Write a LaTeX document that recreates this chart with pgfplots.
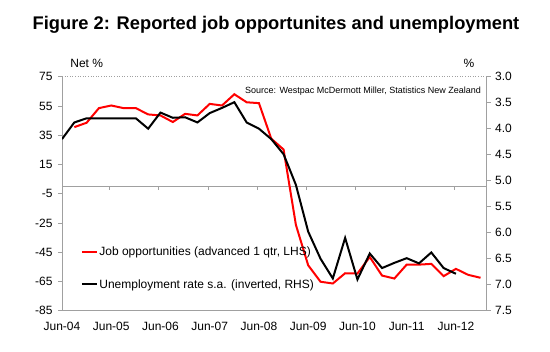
\documentclass[border=0pt]{standalone}
\usepackage{fontspec}
\setmainfont{Liberation Sans}
\usepackage{pgfplots}
\pgfplotsset{compat=1.18}
\definecolor{axgray}{RGB}{160,160,160}
\begin{document}
\begin{tikzpicture}
\path[use as bounding box] (0,0) rectangle (550pt,352pt);
\node[font=\fontsize{18.3}{21}\selectfont\bfseries] at (276pt,327pt) {Figure 2: Reported job opportunites and unemployment};
\node[font=\fontsize{12}{14}\selectfont] at (86.7pt,289pt) {Net \%};
\node[font=\fontsize{12}{14}\selectfont] at (469pt,289pt) {\%};
\begin{axis}[
  at={(62pt,41.3pt)}, anchor=south west, scale only axis,
  width=424.7pt, height=234pt,
  xmin=0, xmax=34.5, ymin=-85, ymax=75,
  axis y line*=left, axis x line*=bottom,
  axis line style={draw=axgray, line width=0.6pt, -},
  xtick={0,4,...,32},
  xticklabels={Jun-04,Jun-05,Jun-06,Jun-07,Jun-08,Jun-09,Jun-10,Jun-11,Jun-12},
  ytick={-85,-65,-45,-25,-5,15,35,55,75},
  yticklabels={-85,-65,-45,-25,-5,15,35,55,75},
  x tick style={draw=none},
  y tick style={draw=axgray, line width=0.5pt},
  tick align=outside, major tick length=4pt,
  tick label style={font=\fontsize{12}{14}\selectfont},
  xticklabel style={yshift=-4pt},
  yticklabel style={xshift=-2pt},
  clip=false,
  legend style={draw=none, fill=none, at={(0.044,0.181)}, anchor=west,
    font=\fontsize{12}{14}\selectfont, row sep=22pt, inner xsep=0pt, inner ysep=0pt,
    nodes={inner xsep=1.5pt, inner ysep=0pt},
    /tikz/every even column/.append style={column sep=0pt}},
  legend cell align=left,
  legend image code/.code={\draw[#1] (0pt,0pt) -- (15pt,0pt);},
]
\draw[axgray, line width=0.6pt, dotted] (rel axis cs:0,1) -- (rel axis cs:1,1);
\draw[axgray, line width=0.6pt] (axis cs:0,0) -- (axis cs:34.5,0);
\draw[axgray, line width=0.5pt] (axis cs:3.85,0) -- ++(0pt,-4pt);
\draw[axgray, line width=0.5pt] (axis cs:7.85,0) -- ++(0pt,-4pt);
\draw[axgray, line width=0.5pt] (axis cs:11.85,0) -- ++(0pt,-4pt);
\draw[axgray, line width=0.5pt] (axis cs:15.85,0) -- ++(0pt,-4pt);
\draw[axgray, line width=0.5pt] (axis cs:19.85,0) -- ++(0pt,-4pt);
\draw[axgray, line width=0.5pt] (axis cs:23.85,0) -- ++(0pt,-4pt);
\draw[axgray, line width=0.5pt] (axis cs:27.85,0) -- ++(0pt,-4pt);
\draw[axgray, line width=0.5pt] (axis cs:31.85,0) -- ++(0pt,-4pt);
\addplot[red, line width=2pt] coordinates {
(1,40.5) (2,43.5) (3,53.5) (4,55.3) (5,53.5) (6,53.5) (7,49.2) (8,48.5) (9,44) (10,49.6)
(11,48.5) (12,56.4) (13,55.3) (14,63) (15,57.5) (16,56.9) (17,32.6) (18,25.2) (19,-26.3) (20,-54)
(21,-65.2) (22,-66.4) (23,-59.4) (24,-59.6) (25,-48.3) (26,-61) (27,-63) (28,-53.5) (29,-53.5) (30,-53)
(31,-61.4) (32,-56.4) (33,-60.5) (34,-62.5)
};
\addlegendentry{Job opportunities (advanced 1 qtr, LHS)}
\addlegendimage{black, line width=2pt}
\addlegendentry{Unemployment rate s.a. (inverted, RHS)}
\node[anchor=east, font=\fontsize{9}{11}\selectfont, inner sep=0pt] at (rel axis cs:0.987,0.94) {Source: Westpac McDermott Miller, Statistics New Zealand};
\end{axis}
\begin{axis}[
  at={(62pt,41.3pt)}, anchor=south west, scale only axis,
  width=424.7pt, height=234pt,
  xmin=0, xmax=34.5, ymin=3, ymax=7.5, y dir=reverse,
  axis y line*=right, axis x line=none,
  axis line style={draw=axgray, line width=0.6pt, -},
  ytick={3,3.5,4,4.5,5,5.5,6,6.5,7,7.5},
  yticklabels={3.0,3.5,4.0,4.5,5.0,5.5,6.0,6.5,7.0,7.5},
  y tick style={draw=axgray, line width=0.5pt},
  tick align=outside, major tick length=4pt,
  tick label style={font=\fontsize{12}{14}\selectfont},
  yticklabel style={xshift=1pt},
]
\addplot[black, line width=2pt] coordinates {
(0,4.2) (1,3.88) (2,3.8) (3,3.8) (4,3.8) (5,3.8) (6,3.8) (7,4.0) (8,3.69) (9,3.79)
(10,3.78) (11,3.88) (12,3.7) (13,3.6) (14,3.49) (15,3.88) (16,4.0) (17,4.2) (18,4.49) (19,5.08)
(20,5.98) (21,6.5) (22,6.88) (23,6.1) (24,6.9) (25,6.4) (26,6.68) (27,6.58) (28,6.49) (29,6.59)
(30,6.38) (31,6.68) (32,6.79)
};
\end{axis}
\end{tikzpicture}
\end{document}
